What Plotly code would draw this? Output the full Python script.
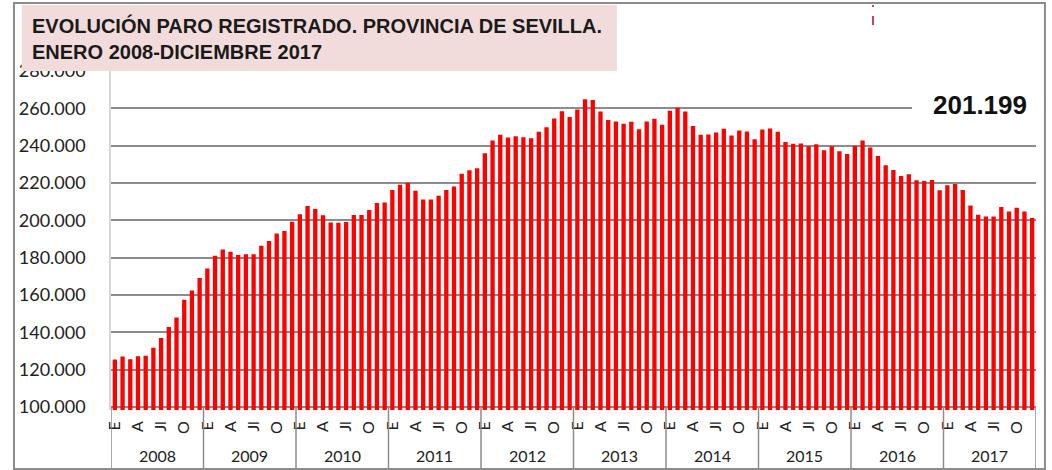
import plotly.graph_objects as go

years = ["2008", "2009", "2010", "2011", "2012", "2013", "2014", "2015", "2016", "2017"]
months = ["E", "F", "M", "A", "My", "J", "Jl", "Ag", "S", "O", "N", "D"]
shown_months = ["E", "A", "Jl", "O"]

paro_2008 = [125400, 127000, 125600, 127200, 127500, 131700, 137000, 142900, 147900, 157400, 162400, 169100]
paro_2009 = [174200, 181000, 184400, 183200, 181400, 181800, 181800, 186400, 188900, 193000, 194300, 199300]
paro_2010 = [203200, 207700, 206100, 202700, 198900, 198700, 199100, 202900, 202900, 205500, 209300, 209500]
paro_2011 = [216300, 219100, 220200, 215900, 211100, 211100, 213200, 216300, 218100, 225000, 226800, 227900]
paro_2012 = [236000, 242800, 245800, 244400, 245100, 244500, 244000, 247400, 249900, 254600, 258500, 255300]
paro_2013 = [259400, 264900, 264400, 258300, 253800, 253000, 251700, 252800, 248800, 253000, 254400, 251200]
paro_2014 = [258700, 260300, 258300, 250600, 245800, 246000, 247000, 249000, 245400, 248100, 247600, 243500]
paro_2015 = [248700, 249200, 247400, 242000, 241000, 241100, 239700, 240800, 237600, 239700, 237000, 235600]
paro_2016 = [239900, 242800, 239000, 234500, 229500, 227000, 223800, 224700, 221500, 221100, 221600, 216100]
paro_2017 = [218800, 219500, 216300, 207900, 203000, 202000, 202000, 207200, 204700, 206800, 204800, 201199]

series = [paro_2008, paro_2009, paro_2010, paro_2011, paro_2012,
          paro_2013, paro_2014, paro_2015, paro_2016, paro_2017]

values = [v for yr in series for v in yr]
x_idx = list(range(len(values)))
hover = [f"{months[i % 12]} {years[i // 12]}" for i in x_idx]

tickvals = [i for i in x_idx if months[i % 12] in shown_months]
ticktext = [months[i % 12] for i in tickvals]

last_value = values[-1]
last_label = f"{last_value:,}".replace(",", ".")

fig = go.Figure()
fig.add_trace(go.Bar(
    x=x_idx, y=values, marker=dict(color="#FF0000", line=dict(width=0)),
    hovertext=hover, hoverinfo="text+y",
))

GRAY = "#8c8c8c"
shapes = []
# outer frame
shapes.append(dict(type="rect", xref="paper", yref="paper", x0=-0.1049, x1=1.0097,
                   y0=-0.174, y1=1.2006, line=dict(color=GRAY, width=2), layer="below"))
# year dividers
for k in range(len(years) + 1):
    shapes.append(dict(type="line", xref="x", yref="paper", x0=12 * k - 0.5, x1=12 * k - 0.5,
                       y0=-0.174, y1=0.006, line=dict(color=GRAY, width=1.5), layer="above"))
# title box
shapes.append(dict(type="rect", xref="paper", yref="paper", x0=-0.0965, x1=0.547,
                   y0=(410 - 71) / 339, y1=(410 - 5) / 339, fillcolor="#F2DCDB",
                   line=dict(width=0), layer="above"))
# white patch behind last value
shapes.append(dict(type="rect", xref="paper", yref="paper", x0=(912 - 111) / 925, x1=1.0,
                   y0=(410 - 116) / 339, y1=(410 - 96) / 339, fillcolor="white",
                   line=dict(width=0), layer="above"))
# small dashed mark on top
shapes.append(dict(type="line", xref="paper", yref="paper", x0=0.8238, x1=0.8238,
                   y0=1.1357, y1=1.1947, line=dict(color="#c00030", width=1.5, dash="dash")))

annotations = []
annotations.append(dict(
    xref="paper", yref="paper", x=(30 - 111) / 925, y=(410 - 38) / 339,
    xanchor="left", yanchor="middle", align="left", showarrow=False,
    text="<b>EVOLUCIÓN PARO REGISTRADO. PROVINCIA DE SEVILLA.<br>ENERO 2008-DICIEMBRE 2017</b>",
    font=dict(family="Liberation Sans Narrow, Arial Narrow, Liberation Sans, sans-serif",
              size=20, color="#1a1a1a"),
))
annotations.append(dict(
    xref="paper", yref="paper", x=(980 - 111) / 925, y=(410 - 105) / 339,
    xanchor="center", yanchor="middle", showarrow=False,
    text=f"<b>{last_label}</b>",
    font=dict(family="Liberation Sans, Arial, sans-serif", size=26, color="#111111"),
))
for k, yr in enumerate(years):
    annotations.append(dict(
        xref="x", yref="paper", x=12 * k + 5.5, y=(410 - 456) / 339,
        xanchor="center", yanchor="middle", showarrow=False, text=yr,
        font=dict(family="Lato, sans-serif", size=16, color="#222222"),
    ))

fig.update_layout(
    width=1052, height=470,
    margin=dict(l=111, r=16, t=71, b=60, autoexpand=False),
    paper_bgcolor="white", plot_bgcolor="white",
    separators=",.",
    bargap=0.44,
    showlegend=False,
    shapes=shapes,
    annotations=annotations,
    xaxis=dict(
        range=[-0.5, len(values) - 0.5], tickmode="array", tickvals=tickvals, ticktext=ticktext,
        tickangle=-90, ticks="", showgrid=False, zeroline=False, showline=False,
        tickfont=dict(family="Lato, sans-serif", size=16, color="#222222"),
        ticklabelstandoff=7,
    ),
    yaxis=dict(
        range=[98400, 280000], dtick=20000, tick0=100000, tickformat=",d",
        showgrid=True, gridcolor=GRAY, gridwidth=1.6, zeroline=False,
        showline=True, linecolor="#d6d6d6", linewidth=1.5,
        ticks="", ticklabelstandoff=20,
        tickfont=dict(family="Lato, sans-serif", size=18, color="#222222"),
    ),
)

fig.write_html("out.html", config={"displayModeBar": False},
               post_script="document.body.style.margin='0';document.body.style.overflow='hidden';")
